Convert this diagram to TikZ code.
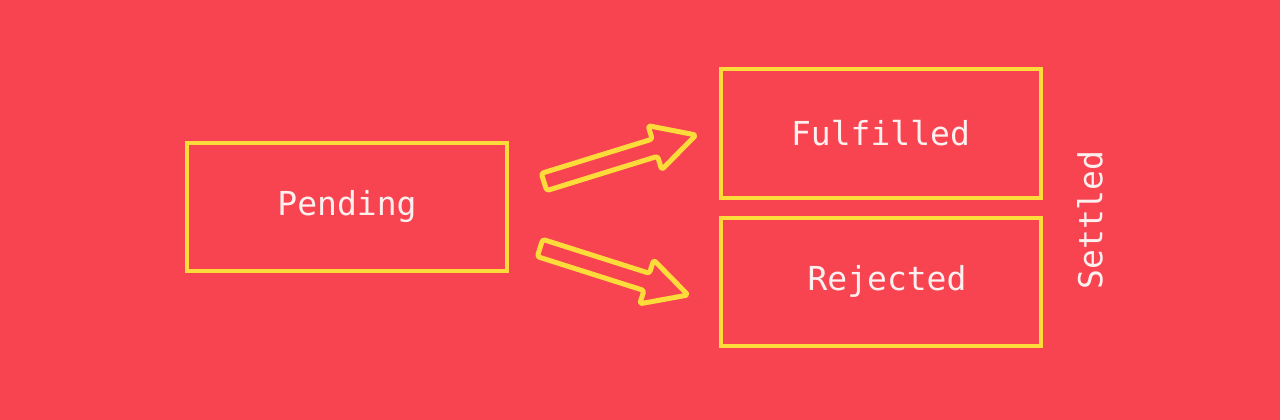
\documentclass[tikz,border=0pt]{standalone}
\usepackage{fontspec}
\setmonofont{DejaVu Sans Mono}
\definecolor{bgred}{HTML}{F74450}
\definecolor{boxyellow}{HTML}{FDDB3A}
\definecolor{txtwhite}{HTML}{FFF0F0}
\begin{document}
\begin{tikzpicture}[x=1pt,y=-1pt,
  statebox/.style={draw=boxyellow, line width=4pt, minimum width=320pt, minimum height=128pt,
    inner sep=0pt, font=\ttfamily\fontsize{33}{40}\selectfont, text=txtwhite},
  blockarrow/.style={draw=boxyellow, line width=5pt, rounded corners=2.5pt, line join=round},
  sidelabel/.style={font=\ttfamily\fontsize{33}{40}\selectfont, text=txtwhite, inner sep=0pt}]
\fill[bgred] (0,0) rectangle (1280,420);
\useasboundingbox (0,0) rectangle (1280,420);
\node[statebox] (pending) at (347,207) {Pending};
\node[statebox] (fulfilled) at (880.5,133.5) {Fulfilled};
\node[statebox] (rejected) at (880.5,281.5) {};
\node[sidelabel] (rejtext) at (887,281.5) {Rejected};
\node[sidelabel, rotate=90] (settled) at (1090,220) {Settled};
% upper block arrow
\draw[blockarrow] (546.7,190.6) -- (541.3,173.4) -- (652.2,139.1) -- (648.1,125.7)
  -- (696,135) -- (661.7,169.7) -- (657.6,156.3) -- cycle;
% lower block arrow
\draw[blockarrow] (542.7,239.4) -- (537.3,256.6) -- (644,290.5) -- (639.7,303.8)
  -- (688,295) -- (653.7,260.0) -- (649.4,273.3) -- cycle;
\end{tikzpicture}
\end{document}
